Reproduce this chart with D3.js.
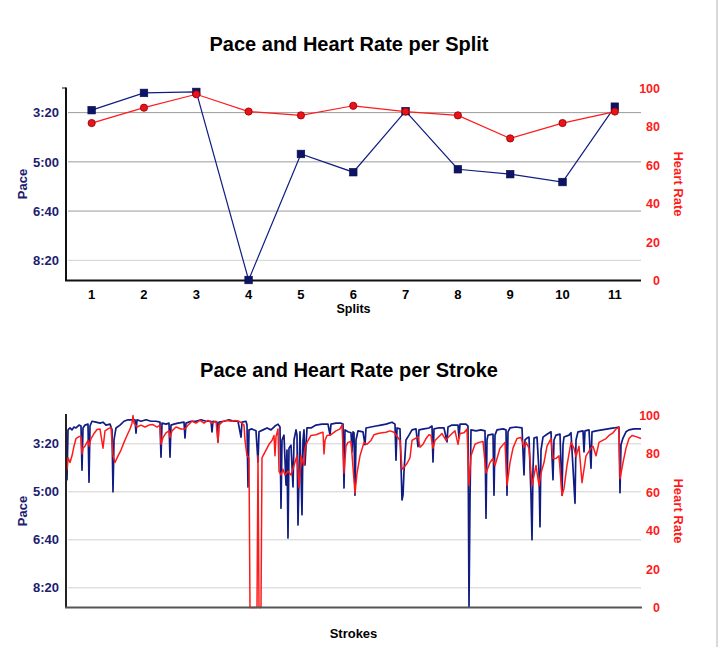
<!DOCTYPE html>
<html><head><meta charset="utf-8">
<script src="https://cdn.jsdelivr.net/npm/d3@7"></script>
<style>
body{margin:0;background:#fff}
svg{display:block}
text{font-family:"Liberation Sans",Arial,Helvetica,sans-serif;font-weight:bold}
</style>
</head><body>
<svg id="c" width="721" height="647"></svg>
<script>
// ---------- data ----------
const splits = [1,2,3,4,5,6,7,8,9,10,11];
const splitPace = [195,160,158,540,284,321,197,315,325,341,188]; // seconds per 500m
const splitHR = [82,90,97,88,86,91,88,86,74,82,88];
const paceTicks = [200,300,400,500];
const hrTicks = [0,20,40,60,80,100];

// [stroke, pace seconds]
const strokePace = [[0,182],[1,275],[2,171],[4,167],[6,171],[8,165],[10,167],[13,161],[15,163],[16,255],[17,167],[19,161],[22,159],[23,280],[24,163],[26,153],[30,155],[34,157],[37,155],[40,161],[44,159],[46,171],[47,300],[48,192],[50,167],[54,161],[58,153],[62,150],[66,150],[69,150],[70,178],[71,150],[75,153],[80,150],[85,153],[90,153],[94,155],[95,228],[96,157],[100,159],[103,157],[104,228],[105,161],[108,159],[112,157],[118,155],[119,188],[120,157],[125,153],[130,153],[135,150],[140,153],[145,153],[146,175],[147,153],[151,155],[152,196],[153,155],[158,153],[163,150],[168,153],[172,153],[175,186],[176,155],[180,153],[181,161],[182,290],[183,171],[186,169],[190,173],[192,238],[193,175],[197,171],[201,167],[205,171],[209,163],[212,159],[214,165],[215,334],[216,192],[218,182],[220,286],[221,213],[222,396],[223,209],[225,203],[227,290],[228,192],[230,171],[231,182],[232,369],[234,175],[236,348],[237,192],[238,171],[239,244],[241,167],[245,167],[250,161],[256,159],[262,159],[264,182],[265,159],[270,157],[275,157],[277,159],[278,292],[279,171],[282,175],[285,177],[286,217],[287,175],[288,177],[289,307],[290,192],[292,173],[297,175],[299,202],[300,167],[305,165],[310,163],[315,161],[320,159],[326,155],[329,159],[330,234],[331,167],[334,169],[336,317],[337,307],[338,258],[340,192],[343,182],[346,171],[350,169],[352,206],[353,171],[358,169],[363,167],[366,163],[367,238],[368,169],[372,167],[378,167],[381,196],[382,165],[386,161],[392,161],[393,188],[394,159],[400,159],[402,163],[403,540],[404,317],[405,171],[410,173],[415,171],[419,173],[420,355],[421,192],[422,182],[427,180],[428,307],[429,182],[431,171],[437,169],[440,171],[441,307],[442,175],[444,167],[450,165],[456,167],[458,265],[459,192],[461,188],[463,186],[465,307],[466,400],[467,254],[468,188],[471,186],[473,258],[474,373],[475,213],[477,186],[481,180],[485,175],[487,275],[488,192],[490,182],[494,180],[496,307],[497,202],[498,186],[503,182],[505,177],[509,324],[510,192],[512,175],[517,173],[518,217],[519,173],[523,171],[525,251],[526,175],[530,173],[536,171],[542,169],[548,167],[553,165],[554,302],[555,202],[557,188],[560,175],[563,171],[568,169],[575,169]];

// [stroke, heart rate]
const strokeHR = [[0,78],[1,72],[2,78],[4,75.5],[6,79],[8,84],[10,88],[13,89],[15,89],[16,80],[17,83],[19,84],[22,87],[23,84],[25,88],[28,90.6],[31,92.7],[34,93],[37,83],[39,92],[42,93],[45,93.8],[47,79],[49,75.5],[52,79],[55,82],[58,86],[61,89.6],[64,93],[66,96],[67,100],[68,96],[71,94],[75,95],[79,94],[83,95],[87,95.3],[91,94],[94,95],[95,85],[97,88.5],[100,91],[103,92],[104,88.5],[106,92],[110,94],[115,93],[119,93],[122,95],[126,97],[130,96],[134,97.4],[138,96],[142,97.4],[146,96],[150,97],[152,86],[153,95],[157,97],[161,97.4],[165,97],[169,97.4],[173,97],[176,96],[178,95],[179,87],[181,79],[183,78],[184,0],[191,0],[192,79],[193,0],[195,0],[196,78],[197,79],[200,82],[203,85],[206,87],[208,89.6],[209,79],[210,89],[212,93],[213,71],[215,69],[217,72],[219,69],[222,71],[225,69],[228,74],[231,79],[233,62.5],[235,79],[238,74],[239,83],[241,86],[245,89.6],[250,90],[255,91],[257,91.3],[258,80],[259,87],[261,89.6],[265,90],[270,92],[274,93],[276,95],[278,70],[280,84],[282,86],[285,86.5],[289,59.4],[291,70],[294,79],[298,86],[301,85],[305,87],[308,90],[312,90.6],[316,91],[320,91.3],[324,92],[328,91.3],[334,87],[336,72],[338,73],[341,75],[344,78],[346,87],[349,88],[352,89],[354,83.5],[357,85],[360,88],[363,90],[365,89.6],[367,83],[369,87],[372,88.5],[376,90.6],[380,87],[382,88.5],[386,90.6],[389,92],[392,85],[394,90.6],[398,91],[401,93],[403,63.5],[405,79],[409,85],[413,86],[417,86.5],[420,70],[424,75.5],[427,77.6],[429,74],[434,83],[439,86],[441,63.5],[444,75.5],[447,83],[451,88],[455,88.5],[458,83.5],[460,86],[463,83],[465,70],[466,63.5],[470,74],[473,63.5],[475,70],[478,75.5],[481,84],[485,88],[487,77.6],[490,77.6],[493,79],[496,58.3],[498,62],[501,74],[505,86],[508,83],[510,78.6],[513,84],[516,65],[520,79],[525,83],[527,84],[530,79],[533,86],[540,88],[543,89.6],[547,91],[550,93],[553,93.8],[554,67],[557,75.5],[560,83],[563,88],[566,89.6],[570,89],[575,88]];
const strokeDomain = [0,575];

// ---------- drawing ----------
const NAVY = '#101c82', LABEL_NAVY = '#1c2070', RED = '#ff1a1a';
const svg = d3.select('#c');
const fmt = s => Math.floor(s/60) + ':' + String(Math.round(s%60)).padStart(2,'0');

// window border at right
svg.append('line').attr('x1',717).attr('x2',717).attr('y1',0).attr('y2',647)
  .attr('stroke','#d9d9d9').attr('stroke-width',2);

function panel(o){
  const g = svg.append('g');
  const {yP, yH, top, bottom} = o;
  g.append('text').attr('x',349).attr('y',o.titleY).attr('text-anchor','middle')
    .attr('font-size',20).attr('fill','#000').text(o.title);
  g.selectAll('.grid').data(paceTicks).enter().append('line')
    .attr('x1',68).attr('x2',641).attr('y1',d=>yP(d)).attr('y2',d=>yP(d))
    .attr('stroke',d=>o.gridColor(d)).attr('stroke-width',1);
  g.selectAll('.lt').data(paceTicks).enter().append('text')
    .attr('x',59).attr('y',d=>yP(d)).attr('dy','0.36em').attr('text-anchor','end')
    .attr('font-size',13).attr('fill',LABEL_NAVY).text(fmt);
  g.selectAll('.rt').data(hrTicks).enter().append('text')
    .attr('x',660).attr('y',d=>yH(d)).attr('dy','0.36em').attr('text-anchor','end')
    .attr('font-size',12.5).attr('fill',RED).text(d=>d);
  const mid = (top+bottom)/2;
  g.append('text').attr('transform',`translate(27,${mid}) rotate(-90)`).attr('text-anchor','middle')
    .attr('font-size',13).attr('fill',LABEL_NAVY).text('Pace');
  g.append('text').attr('transform',`translate(674,${mid}) rotate(90)`).attr('text-anchor','middle')
    .attr('font-size',13).attr('fill',RED).text('Heart Rate');
  g.append('text').attr('x',353.5).attr('y',o.xLabelY).attr('text-anchor','middle')
    .attr('font-size',o.xLabelSize||13).attr('fill','#000').text(o.xLabel);
  return g;
}

// ----- top panel -----
const x1 = d3.scaleBand().domain(splits).range([65.5,641]);
const yP1 = d3.scaleLinear().domain([150,540]).range([88,280]);
const yH1 = d3.scaleLinear().domain([0,100]).range([280.5,88.5]);
const g1 = panel({yP:yP1, yH:yH1, top:88, bottom:280, title:'Pace and Heart Rate per Split', titleY:51,
  xLabel:'Splits', xLabelY:313, xLabelSize:12.5, gridColor:d=>d===500?'#d0d0d0':'#9a9a9a'});
g1.selectAll('.xt').data(splits).enter().append('text')
  .attr('x',d=>x1(d)+x1.bandwidth()/2).attr('y',298.5).attr('text-anchor','middle')
  .attr('font-size',13).attr('fill','#000').text(d=>d);
g1.append('line').attr('x1',66).attr('x2',66).attr('y1',87.5).attr('y2',281).attr('stroke','#111').attr('stroke-width',2);
g1.append('line').attr('x1',62).attr('x2',66).attr('y1',88).attr('y2',88).attr('stroke','#111').attr('stroke-width',1);
g1.append('line').attr('x1',65).attr('x2',641).attr('y1',280.5).attr('y2',280.5).attr('stroke','#111').attr('stroke-width',2);

const cx1 = d => x1(d)+x1.bandwidth()/2;
const paceRows = splits.map((s,i)=>[s,splitPace[i]]);
const hrRows = splits.map((s,i)=>[s,splitHR[i]]);
g1.append('path').datum(paceRows).attr('fill','none').attr('stroke',NAVY).attr('stroke-width',1.2)
  .attr('d',d3.line().x(d=>cx1(d[0])).y(d=>yP1(d[1])));
g1.selectAll('.sq').data(paceRows).enter().append('rect')
  .attr('x',d=>cx1(d[0])-3.8).attr('y',d=>yP1(d[1])-3.8).attr('width',7.6).attr('height',7.6)
  .attr('fill','#0c1466').attr('stroke','#0a0f4a').attr('stroke-width',0.6);
g1.append('path').datum(hrRows).attr('fill','none').attr('stroke',RED).attr('stroke-width',1.2)
  .attr('d',d3.line().x(d=>cx1(d[0])).y(d=>yH1(d[1])));
g1.selectAll('.ci').data(hrRows).enter().append('circle')
  .attr('cx',d=>cx1(d[0])).attr('cy',d=>yH1(d[1])).attr('r',3.6)
  .attr('fill','#e8141c').attr('stroke','#a00000').attr('stroke-width',0.9);

// ----- bottom panel -----
const x2 = d3.scaleLinear().domain(strokeDomain).range([66,641]);
const yP2 = d3.scaleLinear().domain([140,540]).range([415,607]);
const yH2 = d3.scaleLinear().domain([0,100]).range([607.5,415.5]);
const g2 = panel({yP:yP2, yH:yH2, top:415, bottom:607, title:'Pace and Heart Rate per Stroke', titleY:377,
  xLabel:'Strokes', xLabelY:638, gridColor:()=>'#d0d0d0'});
g2.append('path').datum(strokePace).attr('fill','none').attr('stroke',NAVY).attr('stroke-width',1.7)
  .attr('stroke-linejoin','round').attr('d',d3.line().x(d=>x2(d[0])).y(d=>yP2(d[1])));
g2.append('path').datum(strokeHR).attr('fill','none').attr('stroke',RED).attr('stroke-width',1.5)
  .attr('stroke-linejoin','round').attr('d',d3.line().x(d=>x2(d[0])).y(d=>yH2(d[1])));
g2.append('line').attr('x1',66).attr('x2',66).attr('y1',414).attr('y2',608).attr('stroke','#222').attr('stroke-width',2);
g2.append('line').attr('x1',65).attr('x2',642).attr('y1',607.5).attr('y2',607.5).attr('stroke','#555').attr('stroke-width',2.2);
</script>
</body></html>
